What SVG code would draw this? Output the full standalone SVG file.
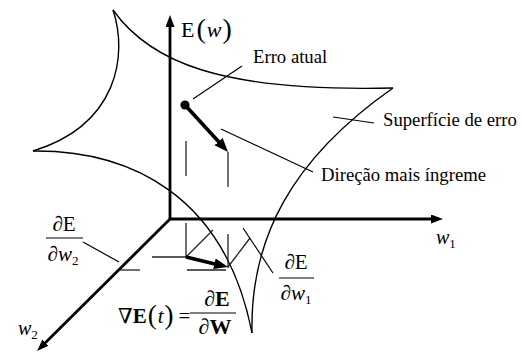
<svg xmlns="http://www.w3.org/2000/svg" width="522" height="353" viewBox="0 0 522 353">
<style>
text{font-family:"Liberation Serif","DejaVu Serif",serif;fill:#000}
.lbl{font-size:18.7px}
.thin{fill:none;stroke:#000;stroke-width:1.2}
.dash{fill:none;stroke:#222;stroke-width:1.3}
.axis{fill:none;stroke:#000;stroke-width:2.8}
.bold{fill:none;stroke:#000;stroke-width:3.6}
.surf{fill:none;stroke:#000;stroke-width:1.4}
.it{font-style:italic}
.b{font-weight:bold}
</style>
<defs>
<marker id="ah" markerUnits="userSpaceOnUse" markerWidth="12" markerHeight="10" refX="6" refY="4.5" orient="auto">
<path d="M0,0 L12,4.5 L0,9 z" fill="#000"/>
</marker>
<marker id="ahb" markerUnits="userSpaceOnUse" markerWidth="14" markerHeight="12" refX="7" refY="5.5" orient="auto">
<path d="M0,0 L14,5.5 L0,11 z" fill="#000"/>
</marker>
</defs>
<rect width="522" height="353" fill="#fff"/>
<g id="surface">
<path class="surf" d="M113,10 C128,55 118,125 33,151"/>
<path class="surf" d="M33,151 C130,150 225,195 252,333"/>
<path class="surf" d="M252,333 C250,240 290,160 393,88"/>
<path class="surf" d="M113,10 C150,62 220,92 393,88"/>
</g>
<g id="connectors">
<line class="axis" x1="170" y1="219" x2="170" y2="21" marker-end="url(#ah)"/>
<line class="axis" x1="170" y1="219" x2="437" y2="219" marker-end="url(#ah)"/>
<line class="axis" x1="170" y1="219" x2="41.3" y2="346.8" marker-end="url(#ah)"/>
<line class="dash" x1="186" y1="141" x2="186" y2="176"/>
<line class="dash" x1="228" y1="152" x2="228" y2="187"/>
<line class="dash" x1="186" y1="223" x2="186" y2="257"/>
<line class="dash" x1="228" y1="234" x2="228" y2="268"/>
<line class="dash" x1="152" y1="257" x2="186" y2="257"/>
<line class="dash" x1="120" y1="270" x2="140" y2="270"/>
<line class="dash" x1="187" y1="270" x2="226" y2="270"/>
<line class="dash" x1="186" y1="257" x2="213" y2="230"/>
<line class="dash" x1="228" y1="267" x2="250" y2="238"/>
<line class="bold" x1="185" y1="105" x2="223.3" y2="146.8" marker-end="url(#ahb)"/>
<line class="bold" x1="186" y1="257" x2="221.2" y2="265.4" marker-end="url(#ahb)"/>
<line class="thin" x1="193" y1="99" x2="242" y2="66"/>
<line class="thin" x1="221" y1="129" x2="313" y2="172"/>
<line class="thin" x1="333" y1="117" x2="374" y2="123"/>
<line class="thin" x1="243" y1="228" x2="273" y2="273"/>
<line class="thin" x1="83" y1="242" x2="119" y2="262"/>
</g>
<g id="current-error">
<circle cx="185" cy="105" r="4.6" fill="#000"/>
</g>
<g id="label-Ew">
<text x="181" y="37" font-size="22">E<tspan font-size="28" dx="2" dy="1">(</tspan><tspan class="it" dx="1" dy="-1">w</tspan><tspan font-size="28" dx="1" dy="1">)</tspan></text>
</g>
<g id="label-erro-atual"><text class="lbl" x="253" y="63">Erro atual</text></g>
<g id="label-superficie"><text class="lbl" x="383" y="126">Superfície de erro</text></g>
<g id="label-direcao"><text class="lbl" x="321" y="181">Direção mais íngreme</text></g>
<g id="label-w1"><text x="436" y="244" font-size="20" class="it">w<tspan font-style="normal" font-size="13" dy="4">1</tspan></text></g>
<g id="label-w2"><text x="18" y="335" font-size="20" class="it">w<tspan font-style="normal" font-size="13" dy="4">2</tspan></text></g>
<g id="label-dEdw1">
<text x="296" y="269" font-size="21" text-anchor="middle">∂E</text>
<line class="thin" x1="279" y1="278" x2="314" y2="278"/>
<text x="296" y="300" font-size="21" text-anchor="middle">∂<tspan class="it">w</tspan><tspan font-size="13" dy="4">1</tspan></text>
</g>
<g id="label-dEdw2">
<text x="64" y="231" font-size="21" text-anchor="middle">∂E</text>
<line class="thin" x1="46" y1="238" x2="83" y2="238"/>
<text x="63" y="261" font-size="21" text-anchor="middle">∂<tspan class="it">w</tspan><tspan font-size="13" dy="4">2</tspan></text>
</g>
<g id="label-gradient">
<text x="118" y="323" font-size="21">∇<tspan class="b">E</tspan><tspan font-size="27" dx="1" dy="1">(</tspan><tspan class="it" dx="1" dy="-1">t</tspan><tspan font-size="27" dx="1" dy="1">)</tspan><tspan dx="5" dy="-1">=</tspan></text>
<text x="217" y="306" font-size="22" text-anchor="middle">∂<tspan class="b">E</tspan></text>
<line class="thin" x1="190" y1="313" x2="236" y2="313"/>
<text x="215" y="334" font-size="22" text-anchor="middle">∂<tspan class="b">W</tspan></text>
</g>
</svg>
